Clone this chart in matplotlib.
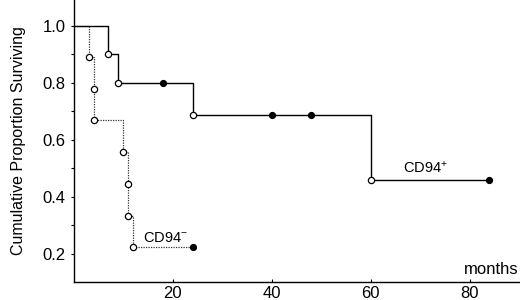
import matplotlib
matplotlib.use('Agg')
import matplotlib.pyplot as plt

plt.rcParams['font.family'] = ['Liberation Sans', 'DejaVu Sans']
plt.rcParams['mathtext.fontset'] = 'custom'
plt.rcParams['mathtext.rm'] = 'Liberation Sans'
plt.rcParams['mathtext.default'] = 'regular'

# CD94+ group (solid line)
pos_t = [0, 7, 9, 24, 60, 84]
pos_s = [1.0, 0.9, 0.8, 0.686, 0.457, 0.457]
pos_event_t = [7, 9, 24, 60]
pos_event_s = [0.9, 0.8, 0.686, 0.457]
pos_cens_t = [18, 40, 48, 84]
pos_cens_s = [0.8, 0.686, 0.686, 0.457]

# CD94- group (dotted line)
neg_t = [0, 3, 4, 4, 10, 11, 11, 12, 24]
neg_s = [1.0, 0.889, 0.778, 0.667, 0.556, 0.444, 0.333, 0.222, 0.222]
neg_event_t = [3, 4, 4, 10, 11, 11, 12]
neg_event_s = [0.889, 0.778, 0.667, 0.556, 0.444, 0.333, 0.222]
neg_cens_t = [24]
neg_cens_s = [0.222]

x_ticks = [20, 40, 60, 80]
y_ticks = [0.2, 0.4, 0.6, 0.8, 1.0]

fig = plt.figure(figsize=(5.2, 3.0), dpi=100)
ax = fig.add_axes([0.142, 0.06, 0.856, 0.94])

ax.step(neg_t, neg_s, where='post', color='#333333', lw=0.9, ls=(0, (1, 1)))
ax.step(pos_t, pos_s, where='post', color='black', lw=1.0)

ax.plot(neg_event_t, neg_event_s, 'o', ms=4.5, mfc='white', mec='black', mew=0.9)
ax.plot(pos_event_t, pos_event_s, 'o', ms=4.5, mfc='white', mec='black', mew=0.9)
ax.plot(neg_cens_t, neg_cens_s, 'o', ms=4.2, color='black')
ax.plot(pos_cens_t, pos_cens_s, 'o', ms=4.2, color='black')

ax.text(66.5, 0.50, 'CD94$^{+}$', fontsize=10.5, ha='left', va='center')
ax.text(14, 0.256, 'CD94$^{-}$', fontsize=10.5, ha='left', va='center')
ax.text(90, 0.118, 'months', fontsize=12, ha='right', va='bottom')

ax.set_xlim(0, 90)
ax.set_ylim(0.1, 1.09)
ax.set_xticks(x_ticks)
ax.set_yticks(y_ticks)
ax.set_yticklabels(['%.1f' % v for v in y_ticks])
ax.set_yticks([0.3, 0.5, 0.7, 0.9], minor=True)
ax.tick_params(axis='x', direction='in', length=2, width=0.8, labelsize=12, pad=3)
ax.tick_params(axis='y', direction='out', length=2, width=0.8, labelsize=12, pad=4)
ax.tick_params(axis='y', which='minor', direction='out', length=2, width=0.8)
ax.set_ylabel('Cumulative Proportion Surviving', fontsize=11.5, labelpad=12)

ax.spines['top'].set_visible(False)
ax.spines['right'].set_visible(False)
ax.spines['left'].set_linewidth(1.0)
ax.spines['bottom'].set_linewidth(1.0)

fig.savefig('out.png', dpi=100)
